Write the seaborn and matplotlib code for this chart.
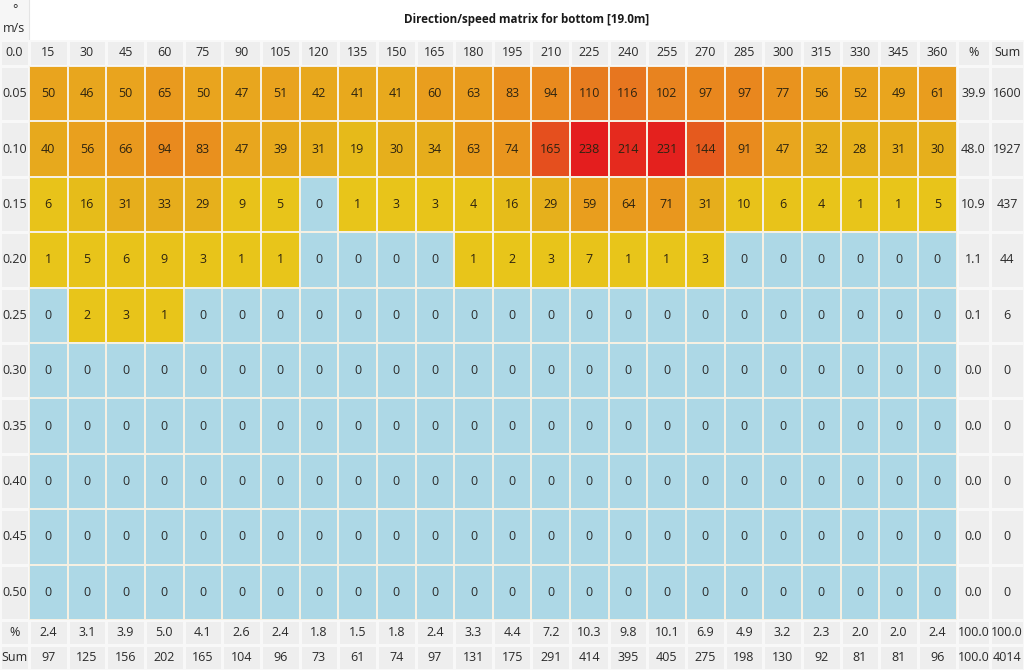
import numpy as np
import matplotlib
matplotlib.use("Agg")
import matplotlib.pyplot as plt
import seaborn as sns
from matplotlib.colors import ListedColormap, LinearSegmentedColormap
from matplotlib.patches import Rectangle

# ---------------- data ----------------
directions = [15, 30, 45, 60, 75, 90, 105, 120, 135, 150, 165, 180,
              195, 210, 225, 240, 255, 270, 285, 300, 315, 330, 345, 360]
speeds = ["0.05", "0.10", "0.15", "0.20", "0.25", "0.30", "0.35", "0.40", "0.45", "0.50"]

row_005 = [50, 46, 50, 65, 50, 47, 51, 42, 41, 41, 60, 63, 83, 94, 110, 116, 102, 97, 97, 77, 56, 52, 49, 61]
row_010 = [40, 56, 66, 94, 83, 47, 39, 31, 19, 30, 34, 63, 74, 165, 238, 214, 231, 144, 91, 47, 32, 28, 31, 30]
row_015 = [6, 16, 31, 33, 29, 9, 5, 0, 1, 3, 3, 4, 16, 29, 59, 64, 71, 31, 10, 6, 4, 1, 1, 5]
row_020 = [1, 5, 6, 9, 3, 1, 1, 0, 0, 0, 0, 1, 2, 3, 7, 1, 1, 3, 0, 0, 0, 0, 0, 0]
row_025 = [0, 2, 3, 1, 0, 0, 0, 0, 0, 0, 0, 0, 0, 0, 0, 0, 0, 0, 0, 0, 0, 0, 0, 0]
row_zero = [0] * 24

row_pct = ["39.9", "48.0", "10.9", "1.1", "0.1", "0.0", "0.0", "0.0", "0.0", "0.0"]
row_sum = ["1600", "1927", "437", "44", "6", "0", "0", "0", "0", "0"]

col_pct = ["2.4", "3.1", "3.9", "5.0", "4.1", "2.6", "2.4", "1.8", "1.5", "1.8", "2.4", "3.3",
           "4.4", "7.2", "10.3", "9.8", "10.1", "6.9", "4.9", "3.2", "2.3", "2.0", "2.0", "2.4"]
col_sum = ["97", "125", "156", "202", "165", "104", "96", "73", "61", "74", "97", "131",
           "175", "291", "414", "395", "405", "275", "198", "130", "92", "81", "81", "96"]
corner_pct = ["100.0", "100.0"]
corner_sum = ["100.0", "4014"]

title = "Direction/speed matrix for bottom [19.0m]"

counts = np.array([row_005, row_010, row_015, row_020, row_025,
                   row_zero, row_zero, row_zero, row_zero, row_zero])

# ---------------- style ----------------
plt.rcParams["font.family"] = ["Open Sans", "DejaVu Sans"]
W, H = 1024, 670
fig = plt.figure(figsize=(W / 100, H / 100), dpi=100)
fig.patch.set_facecolor("white")

GRAY = "#EEEEEE"
TXT = "#2a2a2a"
FS = 9

bg = fig.add_axes([0, 0, 1, 1])
bg.set_xlim(0, W)
bg.set_ylim(H, 0)
bg.axis("off")

# column / row boundaries (pixels)
XL, XD, XR = 0, 29, 956.6
YT, YH, YD, YB = 0, 40, 66, 620

def add_ax(x0, y0, x1, y1):
    ax = fig.add_axes([x0 / W, 1 - y1 / H, (x1 - x0) / W, (y1 - y0) / H])
    return ax

def gray_block(x0, y0, x1, y1, labels, linecolor="#F8F8F8"):
    labels = np.array(labels, dtype=object)
    ax = add_ax(x0, y0, x1, y1)
    sns.heatmap(np.zeros(labels.shape), ax=ax, cmap=ListedColormap([GRAY]),
                annot=labels, fmt="", cbar=False, linewidths=1.0, linecolor=linecolor,
                xticklabels=False, yticklabels=False,
                annot_kws={"fontsize": FS, "color": TXT})
    ax.set_xticks([]); ax.set_yticks([])
    for s in ax.spines.values():
        s.set_visible(False)
    return ax

# top-left corner cell
bg.add_patch(Rectangle((0, 0), XD, YH, facecolor="#F6F6F6", edgecolor="none"))
bg.plot([XD, XD], [0, YH], color="#E4E4E4", lw=0.8)
bg.text(XD / 2, 10, "°", ha="center", va="center", fontsize=FS, color=TXT)
bg.text(XD / 2, 28, "m/s", ha="center", va="center", fontsize=FS, color=TXT)
bg.text((XD + W) / 2, 20, title, ha="center", va="center", fontsize=8.4,
        fontweight="bold", color="#1a1a1a")

# header row
gray_block(XL, YH, XD, YD, [["0.0"]])
gray_block(XD, YH, XR, YD, [[str(d) for d in directions]])
gray_block(XR, YH, W, YD, [["%", "Sum"]])

# left labels
gray_block(XL, YD, XD, YB, [[s] for s in speeds])

# right columns
gray_block(XR, YD, W, YB, [[p, s] for p, s in zip(row_pct, row_sum)])

# bottom rows
gray_block(XL, YB, XD, H, [["%"], ["Sum"]])
gray_block(XD, YB, XR, H, [col_pct, col_sum])
gray_block(XR, YB, W, H, [corner_pct, corner_sum])

# data matrix
cmap = LinearSegmentedColormap.from_list("dirspeed", [
    (0.00, "#E8C51A"),
    (0.035, "#E8C21A"),
    (0.065, "#E6BC1A"),
    (0.127, "#E6AE1C"),
    (0.207, "#E9A41E"),
    (0.27, "#E99A1E"),
    (0.39, "#E98A1E"),
    (0.46, "#E77C1F"),
    (0.60, "#E55A1E"),
    (0.69, "#E5501E"),
    (0.90, "#E52A1E"),
    (1.00, "#E41E1E"),
])
axd = add_ax(XD, YD, XR, YB)
sns.heatmap(counts, ax=axd, mask=(counts != 0), cmap=ListedColormap(["#ADD8E6"]),
            annot=True, fmt="d", cbar=False, linewidths=1.2, linecolor="#EEF3F4",
            xticklabels=False, yticklabels=False,
            annot_kws={"fontsize": FS, "color": TXT})
sns.heatmap(counts, ax=axd, mask=(counts == 0), cmap=cmap, vmin=1, vmax=238,
            annot=True, fmt="d", cbar=False, linewidths=1.2, linecolor="#F6F0E2",
            xticklabels=False, yticklabels=False,
            annot_kws={"fontsize": FS, "color": "#2e2410"})
axd.set_xticks([]); axd.set_yticks([])

fig.savefig("out.png", dpi=100, facecolor="white")
